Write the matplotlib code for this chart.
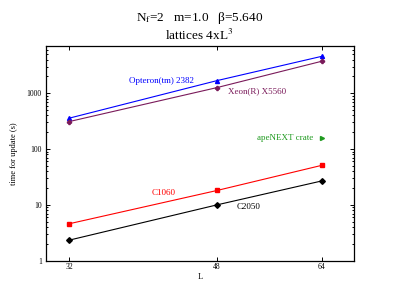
import matplotlib

matplotlib.use("Agg")
import matplotlib.pyplot as plt
from matplotlib import ticker

plt.rcParams["font.family"] = ["Liberation Serif", "DejaVu Serif"]
plt.rcParams["mathtext.fontset"] = "stix"

# lattice sizes L
L_VALUES = [32, 48, 64]

# time for update (s)
opteron = [358, 1680, 4570]
xeon = [311, 1260, 3730]
c1060 = [4.6, 18.1, 51]
c2050 = [2.34, 10.0, 26.8]
apenext_L = [64]
apenext = [160]

X_TICKS = [32, 48, 64]
Y_TICKS = [1, 10, 100, 1000]

MAROON = "#7a1a5a"
GREEN = "#1f9a1f"


def main() -> None:
    fig = plt.figure(figsize=(3.99, 3.08), dpi=100)
    ax = fig.add_axes([46 / 399, 1 - 260.7 / 308, 308.3 / 399, 214.7 / 308])

    kw = dict(linewidth=0.8, markersize=2.9)
    ax.plot(L_VALUES, opteron, color="#0000ff", marker="^", **kw)
    ax.plot(L_VALUES, xeon, color=MAROON, marker="P", **kw)
    ax.plot(L_VALUES, c1060, color="#ff0000", marker="s", **kw)
    ax.plot(L_VALUES, c2050, color="black", marker="D", **kw)
    ax.plot(apenext_L, apenext, color=GREEN, marker=">", linestyle="none", markersize=2.9)

    ax.set_xscale("log")
    ax.set_yscale("log")
    ax.set_xlim(30, 70)
    ax.set_ylim(1, 7000)

    ax.xaxis.set_major_locator(ticker.FixedLocator(X_TICKS))
    ax.xaxis.set_minor_locator(ticker.NullLocator())
    ax.xaxis.set_major_formatter(ticker.FixedFormatter([str(v) for v in X_TICKS]))
    ax.yaxis.set_major_locator(ticker.FixedLocator(Y_TICKS))
    ax.yaxis.set_minor_locator(ticker.LogLocator(base=10, subs=range(2, 10)))
    ax.yaxis.set_major_formatter(ticker.FixedFormatter([str(v) for v in Y_TICKS]))
    ax.yaxis.set_minor_formatter(ticker.NullFormatter())

    ax.tick_params(which="both", direction="in", top=True, right=True, labelsize=5.5, width=0.7)
    ax.tick_params(which="major", length=3.2)
    ax.tick_params(which="minor", length=1.6)
    ax.tick_params(axis="x", pad=2)
    ax.tick_params(axis="y", pad=3)
    for s in ax.spines.values():
        s.set_linewidth(0.9)

    ax.set_xlabel("L", fontsize=6, labelpad=1)
    ax.set_ylabel("time for update (s)", fontsize=6, labelpad=6)

    ax.text(45, 1680, "Opteron(tm) 2382", color="#0000ff", fontsize=6.5, ha="right", va="center")
    ax.text(49.5, 1100, "Xeon(R) X5560", color=MAROON, fontsize=6.5, ha="left", va="center")
    ax.text(41.5, 16, "C1060", color="#ff0000", fontsize=6.5, ha="center", va="center")
    ax.text(52.3, 9.3, "C2050", color="black", fontsize=6.5, ha="center", va="center")
    ax.text(62.6, 160, "apeNEXT crate", color=GREEN, fontsize=6.5, ha="right", va="center")

    fig.text(0.5, 1 - 18 / 308, r"N$_\mathrm{f}$=2   m=1.0   β=5.640", fontsize=9.5, ha="center", va="center")
    fig.text(0.5, 1 - 35 / 308, r"lattices 4xL$^\mathrm{3}$", fontsize=9.5, ha="center", va="center")

    fig.savefig("out.png", dpi=100)
    plt.close(fig)


if __name__ == "__main__":
    main()
